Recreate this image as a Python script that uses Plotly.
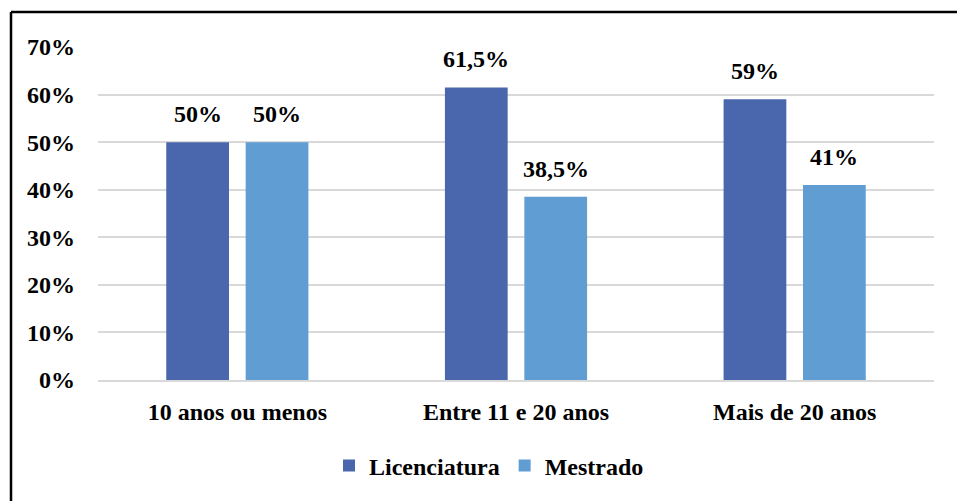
import plotly.graph_objects as go

categories = ["10 anos ou menos", "Entre 11 e 20 anos", "Mais de 20 anos"]
licenciatura = [50, 61.5, 59]
mestrado = [50, 38.5, 41]
lic_labels = ["50%", "61,5%", "59%"]
mes_labels = ["50%", "38,5%", "41%"]
tick_vals = [0, 10, 20, 30, 40, 50, 60, 70]
tick_text = ["0%", "10%", "20%", "30%", "40%", "50%", "60%", "70%"]

FONT = "Liberation Serif"
C_LIC = "#4A66AC"
C_MES = "#5F9DD3"

W, H = 957, 501
ML, MR, MT, MB = 98, 23, 47, 121
BARGAP = 0.43
GROUPGAP = 0.21

def bf(size):
    return dict(family=FONT, size=size, color="black", weight="bold")

fig = go.Figure()
fig.add_trace(go.Bar(name="Licenciatura", x=categories, y=licenciatura,
                     marker=dict(color=C_LIC, line=dict(width=0))))
fig.add_trace(go.Bar(name="Mestrado", x=categories, y=mestrado,
                     marker=dict(color=C_MES, line=dict(width=0))))

plot_w = W - ML - MR
plot_h = H - MT - MB
slot = plot_w / len(categories) * (1 - BARGAP) / 2
annotations = []
for vals, labels, sh in [(licenciatura, lic_labels, -slot / 2), (mestrado, mes_labels, slot / 2)]:
    for c, v, t in zip(categories, vals, labels):
        annotations.append(dict(x=c, y=v, xref="x", yref="y", text=t, showarrow=False,
                                xshift=sh, yshift=28, yanchor="middle",
                                font=bf(24)))

fig.update_layout(
    width=W, height=H,
    margin=dict(l=ML, r=MR, t=MT, b=MB, autoexpand=False),
    paper_bgcolor="white", plot_bgcolor="white",
    barmode="group", bargap=BARGAP, bargroupgap=GROUPGAP,
    font=bf(24),
    showlegend=True,
    legend=dict(orientation="h", x=(489 - ML) / plot_w, xref="paper", xanchor="center",
                yref="container", y=(H - 466) / H, yanchor="middle", font=bf(24),
                itemwidth=30, traceorder="normal"),
    annotations=annotations,
    shapes=[
        dict(type="line", xref="paper", yref="paper", x0=-(ML - 11) / plot_w, x1=1 + MR / plot_w,
             y0=1 + (MT - 12) / plot_h, y1=1 + (MT - 12) / plot_h,
             line=dict(color="black", width=2.5)),
        dict(type="line", xref="paper", yref="paper", x0=-(ML - 11) / plot_w, x1=-(ML - 11) / plot_w,
             y0=1 + (MT - 12) / plot_h, y1=-MB / plot_h,
             line=dict(color="black", width=2.5)),
    ],
)
fig.update_xaxes(showgrid=False, showline=True, linecolor="#D9D9D9", linewidth=2,
                 ticks="", tickfont=bf(24), ticklabelstandoff=9)
fig.update_yaxes(range=[0, 70], tickvals=tick_vals, ticktext=tick_text,
                 showgrid=True, gridcolor="#D9D9D9", gridwidth=1.5, zeroline=False,
                 showline=False, ticks="", ticklabelstandoff=22,
                 tickfont=bf(24))

fig.write_html("out.html")
